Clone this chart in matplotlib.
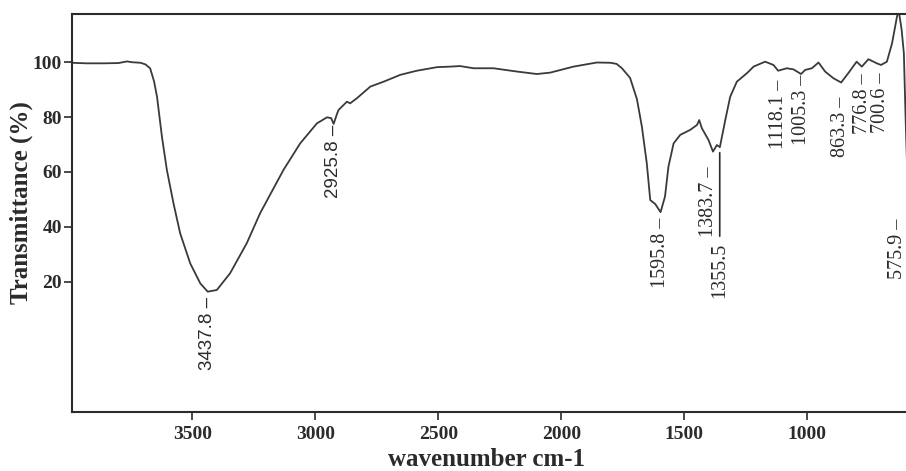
import matplotlib.pyplot as plt

# FTIR spectrum
wavenumber = [3990, 3930, 3860, 3800, 3765, 3745, 3710, 3690, 3671, 3655,
              3643, 3623, 3603, 3576, 3549, 3508, 3467, 3437, 3400, 3346,
              3278, 3224, 3129, 3061, 2993, 2952, 2935, 2925, 2912, 2905,
              2871, 2858, 2830, 2776, 2722, 2654, 2587, 2505, 2451, 2411,
              2356, 2275, 2180, 2099, 2045, 1950, 1855, 1800, 1775, 1753,
              1720, 1692, 1672, 1652, 1638, 1618, 1596, 1578, 1564, 1543,
              1516, 1476, 1448, 1439, 1428, 1401, 1383, 1367, 1355, 1333,
              1313, 1286, 1245, 1218, 1171, 1137, 1118, 1083, 1056, 1025,
              1008, 981, 954, 927, 894, 862, 833, 799, 778, 751,
              717, 700, 676, 655, 635, 628, 616, 607, 600, 590,
              578, 565]
transmittance = [99.8, 99.6, 99.6, 99.7, 100.3, 100.0, 99.8, 99.2, 97.8, 93.0,
                 87.4, 72.8, 60.7, 48.5, 37.6, 26.6, 19.3, 16.3, 16.9, 23.0,
                 34.0, 44.9, 60.7, 70.4, 77.7, 79.9, 79.6, 77.5, 81.0, 82.6,
                 85.6, 85.0, 86.9, 91.1, 92.9, 95.4, 96.9, 98.2, 98.4, 98.6,
                 97.8, 97.8, 96.6, 95.7, 96.2, 98.4, 99.9, 99.8, 99.4, 97.8,
                 94.3, 86.5, 76.5, 63.1, 49.7, 48.3, 45.3, 51.0, 61.9, 70.4,
                 73.5, 75.3, 77.1, 78.9, 75.9, 71.6, 67.4, 69.8, 69.0, 78.9,
                 87.4, 92.9, 96.0, 98.4, 100.2, 99.0, 96.9, 97.8, 97.4, 95.7,
                 97.2, 97.8, 99.9, 96.6, 94.2, 92.6, 96.0, 100.2, 98.4, 101.1,
                 99.6, 99.0, 100.2, 106.9, 116.6, 119.0, 111.8, 103.3, 80.0, 50.0,
                 38.0, 50.0]

peaks = [3437.8, 2925.8, 1595.8, 1383.7, 1118.1, 1005.3, 863.3, 776.8, 700.6, 575.9]
peak_text = ['3437.8', '2925.8', '1595.8', '1383.7', '1118.1', '1005.3',
             '863.3', '776.8', '700.6', '575.9']
# where the top of each label sits (transmittance units)
label_top = [14.4, 77.1, 43.2, 61.8, 93.5, 95.4, 87.3, 96.1, 96.1, 43.0]
label_dx = [0, 0, 0, -4, 0, -4, 0, 0, 0, -14]
sans_labels = ['3437.8', '2925.8']

xticks = [3500, 3000, 2500, 2000, 1500, 1000]
yticks = [20, 40, 60, 80, 100]

ink = '#2b2b2b'
fig = plt.figure(figsize=(9.06, 4.71), dpi=100)
ax = fig.add_axes([0.0791, 0.1253, 0.9313, 0.845])

ax.plot(wavenumber, transmittance, color='#3a3a3a', lw=1.3)
ax.set_xlim(3990, 560)
ax.set_ylim(-27.6, 117.6)
ax.set_xticks(xticks)
ax.set_yticks(yticks)

serif = 'Liberation Serif'
for lab in ax.get_xticklabels() + ax.get_yticklabels():
    lab.set_fontfamily(serif)
    lab.set_fontweight('bold')
    lab.set_fontsize(14)
    lab.set_color(ink)
ax.tick_params(axis='x', direction='out', length=6, width=1.2, pad=4, colors=ink)
ax.tick_params(axis='y', direction='out', length=6, width=1.2, pad=1, colors=ink)
for side in ['left', 'bottom', 'top', 'right']:
    ax.spines[side].set_color(ink)
    ax.spines[side].set_linewidth(1.5)

ax.set_xlabel('wavenumber cm-1', fontfamily=serif, fontweight='bold',
              fontsize=18, color=ink)
ax.xaxis.set_label_coords(0.492, -0.09)
ax.set_ylabel('Transmittance (%)', fontfamily=serif, fontweight='bold',
              fontsize=18, color=ink)
ax.yaxis.set_label_coords(-0.046, 0.525)

for p, t, top, dx in zip(peaks, peak_text, label_top, label_dx):
    if t in sans_labels:
        fam, size = 'Liberation Sans', 13.5
    else:
        fam, size = serif, 14.5
    ax.annotate(t + ' \u2013', xy=(p, top), xytext=(dx, 0),
                textcoords='offset pixels', rotation=90, ha='center',
                va='top', fontfamily=fam, fontsize=size, color=ink,
                annotation_clip=False)

# 1355.5 has a long leader line down from the band
ax.annotate('1355.5', xy=(1355.5, 67.0), xytext=(1355.5, 34.0),
            rotation=90, ha='center', va='top', fontfamily=serif,
            fontsize=14.5, color=ink,
            arrowprops=dict(arrowstyle='-', color=ink, lw=1.2,
                            shrinkA=3, shrinkB=0))

plt.savefig('out.png', dpi=100)
